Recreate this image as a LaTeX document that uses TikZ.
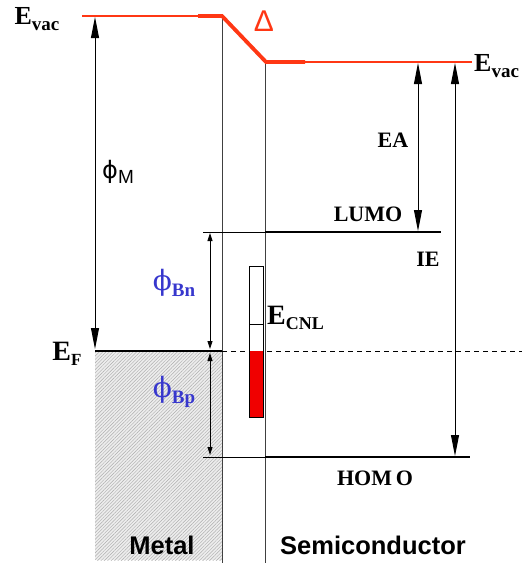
\documentclass[tikz,border=0pt]{standalone}
\usepackage{fontspec}
\setmainfont{Liberation Serif}
\setsansfont{Liberation Sans}
\newfontfamily\phisans{DejaVu Sans}
\newfontfamily\phiserif{DejaVu Serif}
\usetikzlibrary{arrows.meta,patterns.meta}
\definecolor{vacred}{RGB}{255,55,20}
\definecolor{phiblue}{RGB}{55,55,205}
\definecolor{cnlred}{RGB}{240,0,0}
\newcommand{\lvlab}[3]{{\fontsize{#1}{#1}\selectfont\bfseries E}{\fontsize{#3}{#3}\selectfont\bfseries\raisebox{-0.28em}{#2}}}
\begin{document}
\begin{tikzpicture}[x=1pt,y=-1pt,
  iface/.style={draw=black!75,line width=0.9pt},
  vacthin/.style={draw=vacred,line width=1.3pt},
  vacthick/.style={draw=vacred,line width=3.8pt,line join=miter},
  bigarrow/.style={draw=black,line width=0.9pt,{Triangle[length=21pt,width=8pt]}-{Triangle[length=21pt,width=8pt]}},
  smallarrow/.style={draw=black,line width=0.9pt,{Triangle[length=8pt,width=5pt]}-{Triangle[length=8pt,width=5pt]}},
  serlab/.style={inner sep=0pt,font=\fontsize{22}{22}\selectfont\bfseries},
  sanslab/.style={inner sep=0pt,font=\sffamily\bfseries\fontsize{25.5}{25.5}\selectfont},
  bluelab/.style={inner sep=0pt,text=phiblue}]
\useasboundingbox (0,0) rectangle (523,570);
% coordinates
\coordinate (vacL) at (82,16);
\coordinate (vacA) at (198,16);
\coordinate (vacB) at (222,16);
\coordinate (vacC) at (266,62);
\coordinate (vacD) at (305,62);
\coordinate (vacR) at (472,62);
\coordinate (mTop) at (222,16);
\coordinate (mBot) at (222,563);
\coordinate (sTop) at (265,62);
\coordinate (sBot) at (265,563);
\coordinate (efL) at (95,351);
\coordinate (efM) at (222,351);
\coordinate (efR) at (522,351);
\coordinate (lumoT) at (203,232);
\coordinate (lumoS) at (265,232);
\coordinate (lumoR) at (441,232);
\coordinate (homoT) at (203,457);
\coordinate (homoS) at (265,457);
\coordinate (homoR) at (470,457);
% metal hatch
\fill[black!7] (95,352) rectangle (222,560);
\fill[pattern={Lines[angle=45,distance=2.4pt,line width=0.45pt]},pattern color=black!32] (95,352) rectangle (222,560);
% interfaces
\draw[iface] (mTop) -- (mBot);
\draw[iface] (sTop) -- (sBot);
% vacuum level
\draw[vacthin] (vacL) -- (vacA);
\draw[vacthick] (vacA) -- (vacB) -- (vacC) -- (vacD);
\draw[vacthin] (vacD) -- (vacR);
% Fermi level
\draw[line width=1.6pt] (efL) -- (efM);
\draw[line width=1pt,dash pattern=on 5pt off 4pt] (efM) -- (efR);
% LUMO / HOMO
\draw[line width=0.7pt] (lumoT) -- (lumoS);
\draw[line width=2pt] (lumoS) -- (lumoR);
\draw[line width=0.7pt] (homoT) -- (homoS);
\draw[line width=1.5pt] (homoS) -- (homoR);
% CNL box
\fill[cnlred] (249,351) rectangle (263,417);
\draw[line width=0.6pt] (249,266) rectangle (263,417);
\draw[line width=0.5pt] (249,324) -- (263,324);
% arrows
\coordinate (pmT) at (95,17);
\coordinate (pmB) at (95,349);
\draw[bigarrow] (pmT) -- (pmB);
\coordinate (bnT) at (210,233);
\coordinate (bnB) at (210,349);
\draw[smallarrow] (bnT) -- (bnB);
\coordinate (bpT) at (210,353);
\coordinate (bpB) at (210,455);
\draw[smallarrow] (bpT) -- (bpB);
\coordinate (eaT) at (418,63);
\coordinate (eaB) at (418,231);
\draw[bigarrow] (eaT) -- (eaB);
\coordinate (ieT) at (455,63);
\coordinate (ieB) at (455,456);
\draw[bigarrow] (ieT) -- (ieB);
% labels
\node[inner sep=0pt] (evacL) at (37,19) {\lvlab{26}{vac}{19}};
\node[inner sep=0pt,anchor=west] (evacR) at (474,66) {\lvlab{26}{vac}{19}};
\node[inner sep=0pt,text=vacred,font=\sffamily\fontsize{30}{30}\selectfont] (delta) at (264,21) {Δ};
\node[inner sep=0pt] (phiM) at (118,172) {{\phisans\fontsize{24}{24}\selectfont ϕ}{\sffamily\fontsize{19}{19}\selectfont\raisebox{-0.3em}{M}}};
\node[bluelab] (phiBn) at (174,283) {{\phiserif\fontsize{28}{28}\selectfont ϕ}{\fontsize{19}{19}\selectfont\bfseries\raisebox{-0.3em}{Bn}}};
\node[bluelab] (phiBp) at (174,392) {{\phiserif\fontsize{28}{28}\selectfont ϕ}{\fontsize{19}{19}\selectfont\bfseries\raisebox{-0.3em}{Bp}}};
\node[inner sep=0pt,anchor=west] (ecnl) at (267,318) {\lvlab{28}{CNL}{18}};
\node[inner sep=0pt] (ef) at (67,354) {\lvlab{28}{F}{17}};
\node[serlab] (ea) at (393,140) {EA};
\node[serlab] (lumo) at (368,214) {LUMO};
\node[serlab] (ie) at (428,259) {IE};
\node[serlab] (homo) at (375,478) {HOM\,O};
\node[sanslab] (metal) at (162,545) {Metal};
\node[sanslab] (semi) at (373,545) {Semiconductor};
\end{tikzpicture}
\end{document}
